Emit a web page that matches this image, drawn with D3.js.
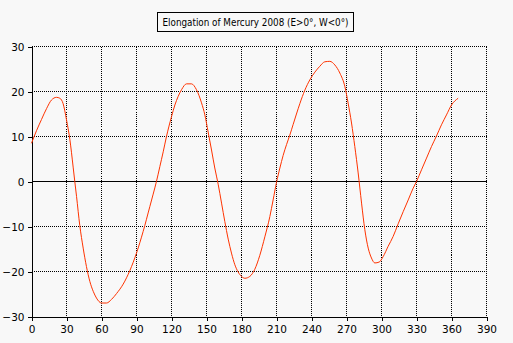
<!DOCTYPE html>
<html>
<head>
<meta charset="utf-8">
<script src="https://cdn.jsdelivr.net/npm/d3@7"></script>
<style>
  html, body { margin: 0; padding: 0; background: #f8f8f8; }
  svg { display: block; }
  text { font-family: "DejaVu Sans", sans-serif; font-size: 10.5px; fill: #000; }
</style>
</head>
<body>
<svg id="chart" width="513" height="343"></svg>
<script>
// Mercury elongation through 2008, day of year vs. degrees (east positive)
const days = [0, 4.3, 8.6, 12.9, 17.1, 21.4, 24.3, 27.1, 30, 32.9, 35.7, 37.1, 38.6, 41.4, 44.3, 47.1, 50,
  52.9, 55.7, 60, 64.3, 68.6, 72.9, 78.6, 84.3, 90, 95.7, 101.4, 104.3, 107.1, 110, 112.9, 115.7,
  120, 122.9, 125.7, 128.6, 132.9, 137.1, 141.4, 145.7, 148.6, 151.4, 154.3, 157.1, 160, 162.9,
  165.7, 168.6, 171.4, 174.3, 177.1, 180, 182.9, 187.1, 191.4, 195.7, 200, 204.3, 207.1, 210,
  212.9, 215.7, 218.6, 221.4, 224.3, 227.1, 230, 234.3, 238.6, 242.9, 247.1, 251.4, 255.7, 260,
  264.3, 268.6, 271.4, 274.3, 277.1, 280, 282.9, 285.7, 288.6, 291.4, 294.3, 298, 301.4, 305.7,
  310, 314.3, 318.6, 322.9, 327.1, 330, 334.3, 338.6, 342.9, 347.1, 351.4, 355.7, 360, 365.7];
const elongation = [8.5, 11.3, 13.8, 16.2, 18.1, 18.7, 18.5, 17.3, 13.7, 9.3, 3.2, 0, -3.3, -9.8, -14.8, -18.9, -22.2,
  -24.4, -25.9, -27.0, -27.0, -26.2, -24.9, -22.8, -19.8, -15.9, -11.1, -5.6, -2.8, 0, 3.3, 6.6, 10,
  14.4, 17, 18.9, 20.4, 21.7, 21.7, 20.4, 17.5, 14.8, 11.0, 7.0, 3.0, -0.6, -4.8,
  -8.9, -12.8, -15.9, -18.5, -20.1, -21.1, -21.5, -21.1, -19.5, -16.4, -12.3, -7.8, -4.1, -0.2,
  3.0, 5.8, 8.2, 10.3, 12.7, 15.0, 17.3, 20.3, 22.6, 24.3, 25.6, 26.6, 26.7, 25.9,
  24.1, 21.1, 17.4, 13, 7.8, 1.9, -4.8, -10.7, -14.8, -17, -18.1, -17.9, -16.7, -14.4,
  -12.2, -9.4, -6.7, -4.1, -1.5, 0, 2.6, 5.2, 7.8, 10.1, 12.6, 14.8, 17, 18.5];
const xTicks = d3.range(0, 391, 30);
const yTicks = d3.range(-30, 31, 10);
const title = "Elongation of Mercury 2008 (E>0°, W<0°)";

const svg = d3.select("#chart");
const x = d3.scaleLinear().domain([0, 390]).range([31.5, 486.5]);
const y = d3.scaleLinear().domain([-30, 30]).range([316.5, 46.5]);

// dotted grid
const grid = svg.append("g").attr("shape-rendering", "crispEdges")
  .attr("stroke", "#000").attr("stroke-dasharray", "1,1");
grid.selectAll("line.v").data(xTicks.filter(d => d > 0)).join("line")
  .attr("x1", d => x(d)).attr("x2", d => x(d)).attr("y1", y(30)).attr("y2", y(-30));
grid.selectAll("line.h").data(yTicks.filter(d => d !== 0 && d !== -30)).join("line")
  .attr("x1", x(0)).attr("x2", x(390)).attr("y1", d => y(d)).attr("y2", d => y(d));

// zero line
svg.append("line").attr("shape-rendering", "crispEdges").attr("stroke", "#000")
  .attr("x1", x(0)).attr("x2", x(390)).attr("y1", y(0)).attr("y2", y(0));

// axes
const xAxis = svg.append("g").attr("transform", `translate(0,${y(-30)})`)
  .call(d3.axisBottom(x).tickValues(xTicks).tickSize(4).tickPadding(4).tickSizeOuter(0));
const yAxis = svg.append("g").attr("transform", `translate(${x(0)},0)`)
  .call(d3.axisLeft(y).tickValues(yTicks).tickSize(4).tickPadding(3).tickSizeOuter(0));
[xAxis, yAxis].forEach(a => {
  a.attr("font-family", null).attr("font-size", null).attr("shape-rendering", "crispEdges");
  a.select(".domain").attr("stroke", "#000");
  a.selectAll(".tick line").attr("stroke", "#000");
});
xAxis.selectAll(".tick text").attr("dy", "0.85em");
yAxis.selectAll(".tick text").attr("dy", "0.35em");

// elongation curve
const pts = days.map((d, i) => [d, elongation[i]]);
svg.append("path").datum(pts)
  .attr("fill", "none").attr("stroke", "#ff3300").attr("stroke-width", 1)
  .attr("d", d3.line().x(d => x(d[0])).y(d => y(d[1])).curve(d3.curveMonotoneX));

// title box
const tg = svg.append("g");
tg.append("rect").attr("x", 157.5).attr("y", 12.5).attr("width", 196).attr("height", 19)
  .attr("fill", "#f8f8f8").attr("stroke", "#000").attr("shape-rendering", "crispEdges");
tg.append("text").attr("x", 255.5).attr("y", 26).attr("text-anchor", "middle")
  .attr("textLength", 186).attr("lengthAdjust", "spacingAndGlyphs").text(title);
</script>
</body>
</html>
